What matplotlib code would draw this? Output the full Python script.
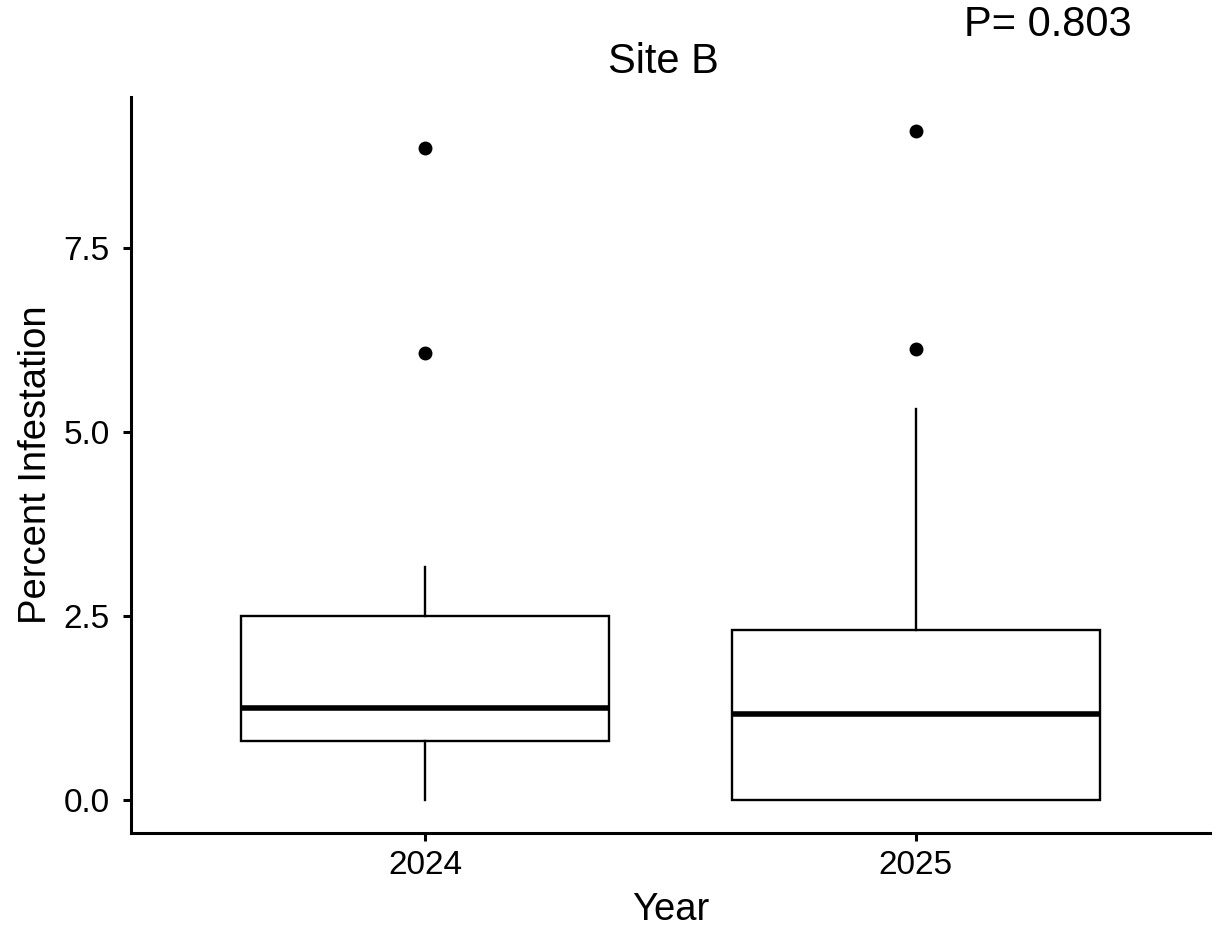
import matplotlib
matplotlib.use("Agg")
import matplotlib.pyplot as plt

plt.rcParams['font.family'] = ['Liberation Sans', 'DejaVu Sans']

years = ["2024", "2025"]
q1 = [0.80, 0.00]
medians = [1.25, 1.17]
q3 = [2.50, 2.31]
whisk_lo = [0.00, 0.00]
whisk_hi = [3.17, 5.31]
outliers = [[6.07, 8.86], [6.13, 9.09]]
title = "Site B"
p_text = "P= 0.803"

fig = plt.figure(figsize=(12.21, 9.30), dpi=100)
ax = fig.add_axes([131/1221, 1 - 833/930, (1210-131)/1221, (833-97)/930])

stats = []
for i in range(len(years)):
    stats.append(dict(label=years[i], q1=q1[i], med=medians[i], q3=q3[i],
                      whislo=whisk_lo[i], whishi=whisk_hi[i], fliers=outliers[i]))

ax.bxp(stats, positions=[1, 2], widths=0.75, showcaps=False, patch_artist=True,
       boxprops=dict(facecolor='white', edgecolor='black', linewidth=1.7),
       whiskerprops=dict(color='black', linewidth=1.7),
       medianprops=dict(color='black', linewidth=4.0, solid_capstyle='butt'),
       flierprops=dict(marker='o', markerfacecolor='black', markeredgecolor='black',
                       markersize=9, linestyle='none'))

ax.set_xlim(0.4, 2.6)
ax.set_ylim(-0.45, 9.55)
ax.set_yticks([0, 2.5, 5.0, 7.5])
ax.set_yticklabels(["0.0", "2.5", "5.0", "7.5"])
ax.set_xticks([1, 2])
ax.set_xticklabels(years)

for s in ['top', 'right']:
    ax.spines[s].set_visible(False)
for s in ['left', 'bottom']:
    ax.spines[s].set_linewidth(2.2)

ax.tick_params(axis='both', length=5.5, width=2.2, labelsize=24, colors='black')
ax.tick_params(axis='y', pad=10)
ax.tick_params(axis='x', pad=7)

ax.set_xlabel("Year", fontsize=27.5, labelpad=8)
ax.set_ylabel("Percent Infestation", fontsize=27.5)
ax.yaxis.set_label_coords(-(131-54)/1079, 0.5)

fig.text(663/1221, 1 - 62/930, title, ha='center', va='center', fontsize=30)
fig.text(1048/1221, 1 - 25/930, p_text, ha='center', va='center', fontsize=30)

fig.savefig("out.png", dpi=100)
